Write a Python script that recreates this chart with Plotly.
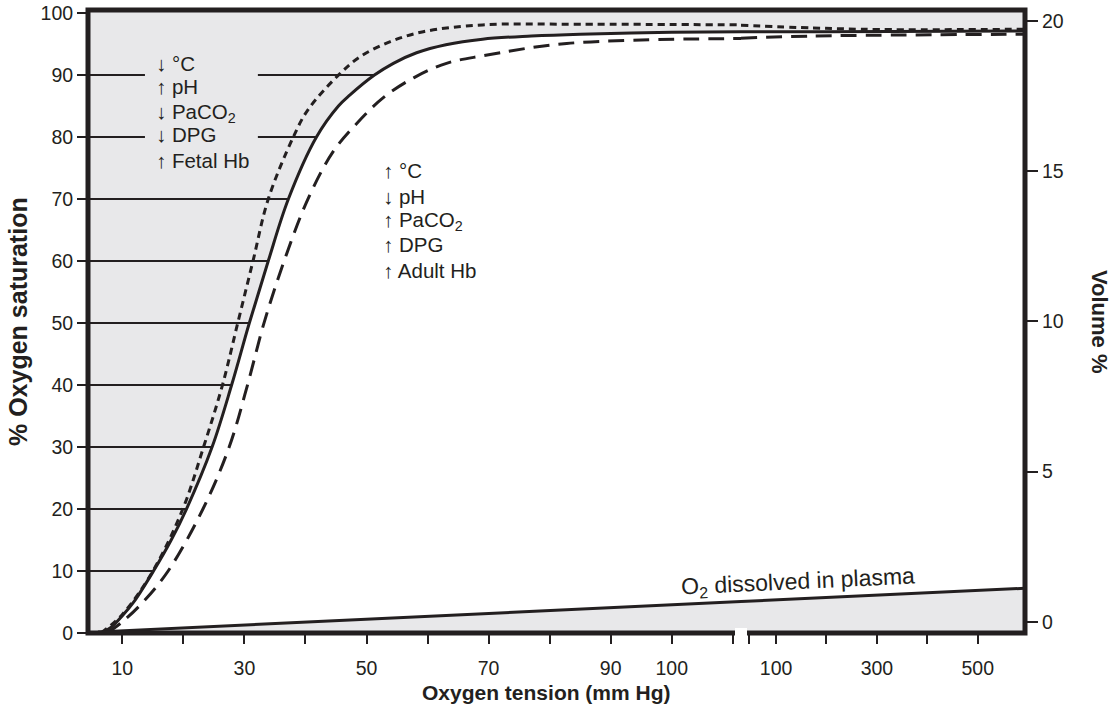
import plotly.graph_objects as go

INK = "#231f20"
SHADE = "#e8e8ea"
FONT = "Liberation Sans, Arial, Helvetica, sans-serif"

# ---- axis ticks -------------------------------------------------------
SAT_TICKS = [0, 10, 20, 30, 40, 50, 60, 70, 80, 90, 100]
VOL_TICKS = [0, 5, 10, 15, 20]
LOW_TICKS = [10, 20, 30, 40, 50, 60, 70, 80, 90, 100, 110]
LOW_LABELS = ["10", "", "30", "", "50", "", "70", "", "90", "100", ""]
HIGH_TICKS = [46, 100, 200, 300, 400, 500]
HIGH_LABELS = ["", "100", "", "300", "", "500"]
GRID_LEVELS = [10, 20, 30, 40, 50, 60, 70, 80, 90]
# rules interrupted where the left text block sits (mm Hg)
GAP_LEVELS = [80, 90]
GAP_X = [13.7, 32.2]

# ---- dissociation curves (mm Hg, % saturation) ------------------------
# normal adult curve
SOLID_LO_X = [6.5, 8, 10, 12, 15.1, 18, 20.5, 24.7, 27.9, 30.8, 33.9, 37.2, 41.8,
              45.4, 47.3, 51.3, 54.4, 58.2, 63, 69, 77, 85, 100, 111.4]
SOLID_LO_Y = [0, 0.8, 2.8, 5.2, 10, 15, 20, 30, 40, 50, 60, 70, 80,
              85, 86.8, 90, 91.9, 93.6, 94.9, 95.8, 96.3, 96.6, 96.9, 97.0]
SOLID_HI_X = [30.4, 200, 600]
SOLID_HI_Y = [97.0, 97.0, 97.1]

# left-shifted curve
SHIFT_L_LO_X = [6.5, 10, 15, 19.9, 23.3, 26.4, 28.9, 31.4, 33.9, 38.0, 40.4, 45.4,
                49, 53.9, 59.3, 69, 85, 111.4]
SHIFT_L_LO_Y = [0, 3, 10, 20, 30, 40, 50, 60, 70, 80, 84.4, 90,
                93, 95.4, 97, 98.1, 98.2, 98.1]
SHIFT_L_HI_X = [30.4, 174, 307, 600]
SHIFT_L_HI_Y = [98.05, 97.6, 97.35, 97.4]

# right-shifted curve
SHIFT_R_LO_X = [7.5, 10, 13.4, 17.5, 23.2, 27.5, 30.5, 33.2, 36.5, 40.4, 44.5, 48.4,
                52.8, 57.8, 63.1, 69, 82.8, 111.4]
SHIFT_R_LO_Y = [0, 1.8, 5, 10, 20, 30, 40, 50, 60, 70, 77.6, 82.2,
                86.4, 89.6, 91.9, 93.1, 95.1, 95.9]
SHIFT_R_HI_X = [30.4, 174, 600]
SHIFT_R_HI_Y = [95.95, 96.3, 96.6]

# O2 dissolved in plasma (volume %)
PLASMA_LO_X = [6, 111.4]
PLASMA_LO_Y = [-0.34, 0.67]
PLASMA_HI_X = [30.4, 600]
PLASMA_HI_Y = [0.67, 1.12]

LOW_RANGE = [4.37, 111.35]
HIGH_RANGE = [30.4, 593.8]
SAT_RANGE = [0, 100.5]
VOL_RANGE = [-0.376, 20.37]
SPLIT = 0.6969

# plot-area size in pixels, used to place text in paper units
L, T, W, H = 88, 10, 937, 623


def px(xp, yp):
    return (xp - L) / W, (T + H - yp) / H


def interp(v, xs, ys):
    for i in range(len(ys) - 1):
        if ys[i] <= v <= ys[i + 1]:
            t = (v - ys[i]) / (ys[i + 1] - ys[i])
            return xs[i] + t * (xs[i + 1] - xs[i])
    return xs[-1]


fig = go.Figure()
ax_lo = dict(xaxis="x", yaxis="y")
ax_hi = dict(xaxis="x3", yaxis="y")
SPL = dict(shape="spline", smoothing=1.0)

# shaded region above/left of the normal curve
fig.add_trace(go.Scatter(x=[0, 0, 120], y=[-1, 105, 105], mode="lines",
                         line=dict(width=0), hoverinfo="skip", **ax_lo))
fig.add_trace(go.Scatter(x=SOLID_LO_X, y=SOLID_LO_Y, mode="lines",
                         line=dict(width=0, **SPL),
                         fill="tonexty", fillcolor=SHADE, hoverinfo="skip", **ax_lo))
fig.add_trace(go.Scatter(x=[0, 650], y=[105, 105], mode="lines",
                         line=dict(width=0), hoverinfo="skip", **ax_hi))
fig.add_trace(go.Scatter(x=SOLID_HI_X, y=SOLID_HI_Y, mode="lines",
                         line=dict(width=0, **SPL),
                         fill="tonexty", fillcolor=SHADE, hoverinfo="skip", **ax_hi))

# horizontal rules reaching the normal curve
gx, gy = [], []
for lvl in GRID_LEVELS:
    end = interp(lvl, SOLID_LO_X, SOLID_LO_Y)
    if lvl in GAP_LEVELS:
        gx += [0, GAP_X[0], None, GAP_X[1], end, None]
        gy += [lvl, lvl, None, lvl, lvl, None]
    else:
        gx += [0, end, None]
        gy += [lvl, lvl, None]
fig.add_trace(go.Scatter(x=gx, y=gy, mode="lines", line=dict(color=INK, width=2),
                         hoverinfo="skip", **ax_lo))

# curves
for xs, ys, dash, ax in [
    (SHIFT_L_LO_X, SHIFT_L_LO_Y, "7px,5px", ax_lo),
    (SHIFT_L_HI_X, SHIFT_L_HI_Y, "7px,5px", ax_hi),
    (SHIFT_R_LO_X, SHIFT_R_LO_Y, "16px,9px", ax_lo),
    (SHIFT_R_HI_X, SHIFT_R_HI_Y, "16px,9px", ax_hi),
    (SOLID_LO_X, SOLID_LO_Y, "solid", ax_lo),
    (SOLID_HI_X, SOLID_HI_Y, "solid", ax_hi),
]:
    fig.add_trace(go.Scatter(x=xs, y=ys, mode="lines",
                             line=dict(color=INK, width=3, dash=dash, **SPL),
                             hoverinfo="skip", **ax))

# dissolved oxygen line and shading underneath
for xs, ys, xa in [(PLASMA_LO_X, PLASMA_LO_Y, "x"), (PLASMA_HI_X, PLASMA_HI_Y, "x3")]:
    fig.add_trace(go.Scatter(x=[xs[0], xs[1], xs[1], xs[0]], y=[ys[0], ys[1], -2, -2],
                             mode="lines", line=dict(width=0), fill="toself",
                             fillcolor=SHADE, hoverinfo="skip", xaxis=xa, yaxis="y2"))
    fig.add_trace(go.Scatter(x=xs, y=ys, mode="lines", line=dict(color=INK, width=3),
                             hoverinfo="skip", xaxis=xa, yaxis="y2"))

tick_common = dict(ticks="outside", tickcolor=INK, tickwidth=2, showline=False,
                   showgrid=False, zeroline=False, automargin=False,
                   tickfont=dict(family=FONT, size=19.5, color=INK))

fig.update_layout(
    width=1116, height=725,
    margin=dict(l=L, r=1116 - L - W, t=T, b=725 - T - H, autoexpand=False),
    paper_bgcolor="white", plot_bgcolor="white",
    showlegend=False, hovermode=False,
    xaxis=dict(domain=[0, SPLIT], range=LOW_RANGE, tickvals=LOW_TICKS,
               ticktext=LOW_LABELS, ticklen=10, ticklabelstandoff=8,
               anchor="y", **tick_common),
    xaxis3=dict(domain=[SPLIT, 1], range=HIGH_RANGE, tickvals=HIGH_TICKS,
                ticktext=HIGH_LABELS, ticklen=10, ticklabelstandoff=8,
                anchor="y", **tick_common),
    yaxis=dict(range=SAT_RANGE, tickvals=SAT_TICKS, ticklen=10, anchor="x",
               **tick_common),
    yaxis2=dict(range=VOL_RANGE, tickvals=VOL_TICKS, ticklen=12, side="right",
                overlaying="y", anchor="free", position=1.0, **tick_common),
)

# frame and the break in the pressure axis
fig.add_shape(type="rect", xref="paper", yref="paper", x0=0, x1=1, y0=0, y1=1,
              line=dict(color=INK, width=5), layer="above")
fig.add_shape(type="rect", xref="paper", yref="paper",
              x0=px(735, 0)[0], x1=px(747, 0)[0], y0=px(0, 638)[1], y1=px(0, 628)[1],
              fillcolor="white", line=dict(width=0), layer="above")

txt = dict(family=FONT, size=20.5, color=INK)
bold = dict(family=FONT, size=21, color=INK, weight="bold")

UP = "<b>↑</b>"
DOWN = "<b>↓</b>"
LEFT_BLOCK = [DOWN + " °C", UP + " pH", DOWN + " PaCO<sub>2</sub>",
              DOWN + " DPG", UP + " Fetal Hb"]
LEFT_BLOCK_Y = [63, 87, 113, 135, 161]
RIGHT_BLOCK = [UP + " °C", DOWN + " pH", UP + " PaCO<sub>2</sub>",
               UP + " DPG", UP + " Adult Hb"]
RIGHT_BLOCK_Y = [171, 196, 221, 245, 270]

for lines, ys, x0 in [(LEFT_BLOCK, LEFT_BLOCK_Y, 154), (RIGHT_BLOCK, RIGHT_BLOCK_Y, 381)]:
    for s, yp in zip(lines, ys):
        xp, ypp = px(x0, yp)
        fig.add_annotation(xref="paper", yref="paper", x=xp, y=ypp, text=s,
                           xanchor="left", yanchor="middle", showarrow=False, font=txt)

xp, yp = px(798, 582)
fig.add_annotation(xref="paper", yref="paper", x=xp, y=yp, showarrow=False,
                   xanchor="center", yanchor="middle",
                   text="O<sub>2</sub> dissolved in plasma", textangle=-2.7,
                   font=dict(family=FONT, size=23, color=INK))

xp, yp = px(18, 322)
fig.add_annotation(xref="paper", yref="paper", x=xp, y=yp, showarrow=False,
                   xanchor="center", yanchor="middle",
                   text="% Oxygen saturation", textangle=-90,
                   font=dict(family=FONT, size=25, color=INK, weight="bold"))
xp, yp = px(1100, 322)
fig.add_annotation(xref="paper", yref="paper", x=xp, y=yp, showarrow=False,
                   xanchor="center", yanchor="middle",
                   text="Volume %", textangle=90,
                   font=dict(family=FONT, size=22, color=INK, weight="bold"))
xp, yp = px(546, 692)
fig.add_annotation(xref="paper", yref="paper", x=xp, y=yp, showarrow=False,
                   xanchor="center", yanchor="middle",
                   text="Oxygen tension (mm Hg)", font=bold)

fig.write_html("out.html", config={"displayModeBar": False})
